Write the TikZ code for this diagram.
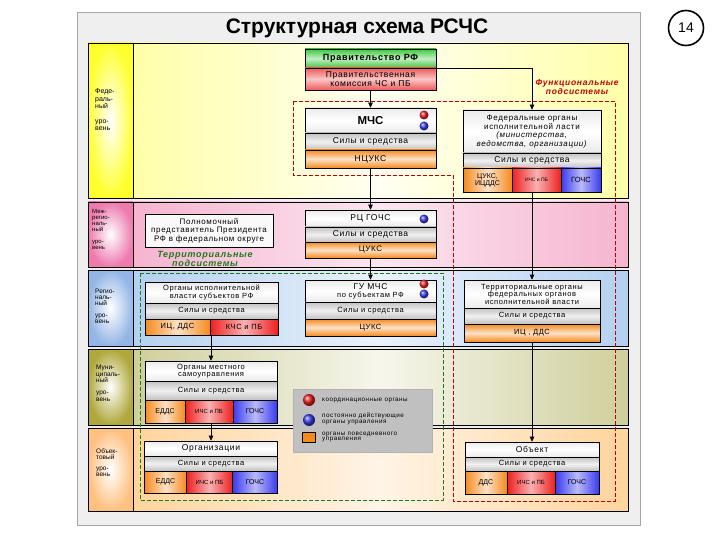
\documentclass[tikz,border=0pt]{standalone}
\usepackage{fontspec}
\setmainfont{Liberation Sans}
\usetikzlibrary{arrows.meta}
\newcommand\lsp{\addfontfeatures{LetterSpace=8}}
\definecolor{cFedA}{HTML}{FFFFA8}
\definecolor{cFedB}{HTML}{FFFFF2}
\definecolor{cFedL}{HTML}{FFFF30}
\definecolor{cMezA}{HTML}{F6B4CF}
\definecolor{cMezB}{HTML}{FCE6F0}
\definecolor{cMezL}{HTML}{EE7AAE}
\definecolor{cRegA}{HTML}{B4D0F0}
\definecolor{cRegB}{HTML}{EAF2FC}
\definecolor{cRegL}{HTML}{94B6E6}
\definecolor{cMunA}{HTML}{CFCF9C}
\definecolor{cMunB}{HTML}{F6F6EC}
\definecolor{cMunL}{HTML}{B0A83C}
\definecolor{cObjA}{HTML}{FFD49C}
\definecolor{cObjB}{HTML}{FFF4E6}
\definecolor{cObjL}{HTML}{FFC080}
\definecolor{cOr}{HTML}{F58A1F}
\definecolor{cRd}{HTML}{EE2020}
\definecolor{cBl}{HTML}{3A3AEE}
\definecolor{cGr}{HTML}{3CC83C}
\definecolor{cKm}{HTML}{EE5A5A}
\definecolor{cFunc}{HTML}{C00000}
\definecolor{cTerr}{HTML}{1E7A1E}
\definecolor{cFrame}{HTML}{EFEFEF}
\definecolor{cLeg}{HTML}{C0C0C0}
\begin{document}
\begin{tikzpicture}[x=1pt,y=-1pt,
  box/.style={draw=black, line width=0.6pt, inner sep=0pt, align=center, text=black, font=\fontsize{8}{8.5}\selectfont\lsp},
  hdr/.style={box, top color=gray!16, bottom color=gray!16, middle color=white},
  ssb/.style={box, top color=gray!48, bottom color=gray!48, middle color=gray!12},
  orv/.style={box, top color=cOr, bottom color=cOr, middle color=cOr!25!white},
  orh/.style={box, left color=cOr, right color=cOr, middle color=cOr!25!white},
  rdh/.style={box, left color=cRd, right color=cRd, middle color=cRd!35!white},
  blh/.style={box, left color=cBl, right color=cBl, middle color=cBl!35!white},
  dot/.style={circle, inner sep=0pt, minimum size=9pt, draw=none},
  arr/.style={-{Triangle[length=5pt,width=4.5pt]}, line width=0.7pt},
  funcd/.style={draw=cFunc, line width=0.7pt, dash pattern=on 4pt off 2pt},
  terrd/.style={draw=cTerr, line width=0.7pt, dash pattern=on 4pt off 2pt},
  lvl/.style={anchor=north west, align=left, inner sep=0pt},
  legt/.style={anchor=west, align=left, inner sep=0pt, font=\fontsize{6.3}{5.5}\selectfont\lsp}
]
\useasboundingbox (0,0) rectangle (720,540);
% outer frame
\draw[draw=gray!70, fill=cFrame, line width=0.8pt] (77,12) rectangle (640,525);
\node[font=\bfseries\fontsize{21}{22}\selectfont] (title) at (357,28) {Структурная схема РСЧС};
\node[circle, draw, line width=1.6pt, minimum size=35pt, inner sep=0pt, font=\fontsize{14}{14}\selectfont] (num) at (686,28) {14};
% bands
\foreach \ya/\yb/\ca/\cb/\cl in {43/198/cFedA/cFedB/cFedL, 202/267/cMezA/cMezB/cMezL, 270/346/cRegA/cRegB/cRegL, 349/425/cMunA/cMunB/cMunL, 428/511/cObjA/cObjB/cObjL}{
  \fill[left color=\ca, right color=\ca, middle color=\cb] (133,\ya) rectangle (628,\yb);
  \fill[inner color=white, outer color=\cl] (88,\ya) rectangle (133,\yb);
  \draw[line width=0.9pt] (88,\ya) rectangle (628,\yb);
  \draw[line width=0.9pt] (133,\ya) -- (133,\yb);
}
% level labels
\node[lvl, font=\fontsize{7}{7.5}\selectfont] (lfed) at (95,88.5) {Феде-\\раль-\\ный\\[7pt]уро-\\вень};
\node[lvl, font=\fontsize{6}{6}\selectfont] (lmez) at (92,209) {Меж-\\регио-\\наль-\\ный\\[6pt]уро-\\вень};
\node[lvl, font=\fontsize{6.5}{6}\selectfont] (lreg) at (95,289) {Регио-\\наль-\\ный\\[6pt]уро-\\вень};
\node[lvl, font=\fontsize{6.5}{6.5}\selectfont] (lmun) at (96,365) {Муни-\\ципаль-\\ный\\[5.5pt]уро-\\вень};
\node[lvl, font=\fontsize{6.5}{6}\selectfont] (lobj) at (96,449) {Объек-\\товый\\[5pt]уро-\\вень};
% subsystem outlines
\draw[funcd] (293,101) -- (615,101) -- (615,501) -- (453,501) -- (453,175) -- (293,175) -- cycle;
\draw[terrd] (140,273) rectangle (443,500);
\node[font=\bfseries\itshape\fontsize{8.5}{7.5}\selectfont\lsp, text=cFunc, align=center] (ftitle) at (577,87) {Функциональные\\подсистемы};
\node[font=\bfseries\itshape\fontsize{9}{8}\selectfont\lsp, text=cTerr, align=center] (ttitle) at (205,259) {Территориальные\\подсистемы};
% federal level
\node[box, top color=cGr, bottom color=cGr, middle color=cGr!30!white, minimum width=131pt, minimum height=19pt, font=\bfseries\fontsize{9}{10}\selectfont\lsp] (gov) at (370.5,58.5) {Правительство РФ};
\node[box, top color=cKm, bottom color=cKm, middle color=cKm!35!white, minimum width=131pt, minimum height=22pt, font=\fontsize{8.5}{8.5}\selectfont\lsp] (kom) at (370.5,79) {Правительственная\\комиссия ЧС и ПБ};
\node[hdr, minimum width=131pt, minimum height=25pt, font=\bfseries\fontsize{11.5}{12}\selectfont] (mchs) at (370.5,120.5) {МЧС};
\node[ssb, minimum width=131pt, minimum height=17pt, font=\fontsize{8.5}{9}\selectfont\lsp] (mchsss) at (370.5,141.5) {Силы и средства};
\node[orv, minimum width=131pt, minimum height=18pt, font=\fontsize{8.5}{9}\selectfont\lsp] (ncuks) at (370.5,159) {НЦУКС};
\node[dot, ball color=cRd] (d1) at (424,115) {};
\node[dot, ball color=cBl] (d2) at (424,126) {};
\node[hdr, minimum width=138pt, minimum height=43pt, font=\fontsize{8}{8.5}\selectfont\lsp] (fed) at (532,131.5) {Федеральные органы\\исполнительной ласти\\\textit{(министерства,}\\\textit{ведомства, организации)}};
\node[ssb, minimum width=138pt, minimum height=15pt, font=\fontsize{8.5}{9}\selectfont\lsp] (fedss) at (532,160.5) {Силы и средства};
\node[orh, minimum width=49pt, minimum height=24pt, font=\fontsize{7}{7}\selectfont] (fedcu) at (487.5,180) {ЦУКС,\\ИЦДДС};
\node[rdh, minimum width=49pt, minimum height=24pt, font=\fontsize{5}{5}\selectfont] (fedich) at (536.5,180) {ИЧС и ПБ};
\node[blh, minimum width=40pt, minimum height=24pt, font=\fontsize{7.5}{8}\selectfont] (fedgo) at (581,180) {ГОЧС};
% interregional level
\node[box, fill=gray!5, minimum width=128pt, minimum height=33pt, font=\fontsize{8}{8.5}\selectfont\lsp] (pp) at (209,230.5) {Полномочный\\представитель Президента\\РФ в федеральном округе};
\node[hdr, minimum width=131pt, minimum height=17pt, font=\fontsize{8.5}{9}\selectfont\lsp] (rc) at (370.5,218.5) {РЦ ГОЧС};
\node[ssb, minimum width=131pt, minimum height=15pt, font=\fontsize{8.5}{9}\selectfont\lsp] (rcss) at (370.5,234.5) {Силы и средства};
\node[orv, minimum width=131pt, minimum height=16pt, font=\fontsize{8}{9}\selectfont\lsp] (rccu) at (370.5,250) {ЦУКС};
\node[dot, ball color=cBl] (d3) at (424,219) {};
% regional level
\node[hdr, minimum width=133pt, minimum height=21pt, font=\fontsize{7.5}{7.5}\selectfont\lsp] (sub) at (211.5,292.5) {Органы исполнительной\\власти субъектов РФ};
\node[ssb, minimum width=133pt, minimum height=16pt, font=\fontsize{7.5}{8}\selectfont\lsp] (subss) at (211.5,311) {Силы и средства};
\node[orh, minimum width=65pt, minimum height=16pt, font=\fontsize{7.5}{8}\selectfont\lsp] (subic) at (177.5,327) {ИЦ, ДДС};
\node[rdh, minimum width=68pt, minimum height=16pt, font=\fontsize{7.5}{8}\selectfont\lsp] (subkc) at (244,327) {КЧС и ПБ};
\node[hdr, minimum width=131pt, minimum height=22pt, font=\fontsize{7.5}{8}\selectfont\lsp] (gu) at (370.5,291) {{\fontsize{8.5}{8.5}\selectfont\lsp ГУ МЧС}\\по субъектам РФ};
\node[ssb, minimum width=131pt, minimum height=17pt, font=\fontsize{7.5}{8}\selectfont\lsp] (guss) at (370.5,310.5) {Силы и средства};
\node[orv, minimum width=131pt, minimum height=17pt, font=\fontsize{7.5}{8}\selectfont\lsp] (gucu) at (370.5,327.5) {ЦУКС};
\node[dot, ball color=cRd] (d4) at (424,284) {};
\node[dot, ball color=cBl] (d5) at (424,294) {};
\node[hdr, minimum width=136pt, minimum height=28pt, font=\fontsize{7.5}{7.5}\selectfont\lsp] (ter) at (532,294) {Территориальные органы\\федеральных органов\\исполнительной власти};
\node[ssb, minimum width=136pt, minimum height=16pt, font=\fontsize{7.5}{8}\selectfont\lsp] (terss) at (532,316) {Силы и средства};
\node[orv, minimum width=136pt, minimum height=18pt, font=\fontsize{7.5}{8}\selectfont\lsp] (teric) at (532,333) {ИЦ , ДДС};
% municipal level
\node[hdr, minimum width=132pt, minimum height=20pt, font=\fontsize{7.5}{7.5}\selectfont\lsp] (mun) at (211,371) {Органы местного\\самоуправления};
\node[ssb, minimum width=132pt, minimum height=19pt, font=\fontsize{7.5}{8}\selectfont\lsp] (munss) at (211,390.5) {Силы и средства};
\node[orh, minimum width=40pt, minimum height=23pt, font=\fontsize{7}{8}\selectfont] (muned) at (165,411.5) {ЕДДС};
\node[rdh, minimum width=48pt, minimum height=23pt, font=\fontsize{6}{7}\selectfont] (munich) at (209,411.5) {ИЧС и ПБ};
\node[blh, minimum width=44pt, minimum height=23pt, font=\fontsize{7}{8}\selectfont] (mungo) at (255,411.5) {ГОЧС};
% object level
\node[hdr, minimum width=133pt, minimum height=15pt, font=\fontsize{8.5}{9}\selectfont\lsp] (org) at (211,448.5) {Организации};
\node[ssb, minimum width=133pt, minimum height=15pt, font=\fontsize{7.5}{8}\selectfont\lsp] (orgss) at (211,463.5) {Силы и средства};
\node[orh, minimum width=42pt, minimum height=22pt, font=\fontsize{7}{8}\selectfont] (orged) at (165.5,482) {ЕДДС};
\node[rdh, minimum width=46pt, minimum height=22pt, font=\fontsize{6}{7}\selectfont] (orgich) at (209.5,482) {ИЧС и ПБ};
\node[blh, minimum width=45pt, minimum height=22pt, font=\fontsize{7}{8}\selectfont] (orggo) at (255,482) {ГОЧС};
\node[hdr, minimum width=134pt, minimum height=15pt, font=\fontsize{8.5}{9}\selectfont\lsp] (obj) at (532,449.5) {Объект};
\node[ssb, minimum width=134pt, minimum height=14pt, font=\fontsize{7.5}{8}\selectfont\lsp] (objss) at (532,464) {Силы и средства};
\node[orh, minimum width=42pt, minimum height=23pt, font=\fontsize{7}{8}\selectfont] (objdd) at (486,482.5) {ДДС};
\node[rdh, minimum width=48pt, minimum height=23pt, font=\fontsize{6}{7}\selectfont] (objich) at (531,482.5) {ИЧС и ПБ};
\node[blh, minimum width=44pt, minimum height=23pt, font=\fontsize{7}{8}\selectfont] (objgo) at (577,482.5) {ГОЧС};
% connectors
\draw[arr] (kom) -- (mchs);
\draw[arr] (gov.south east) -| (fed.north);
\draw[arr] (ncuks) -- (rc);
\draw[arr] (rccu) -- (gu);
\draw[arr] (fedich.south -| fed.south) -- (ter.north);
\draw[arr] (teric) -- (obj);
\draw[arr] (subic.south -| mun.north) -- (mun.north);
\draw[arr] (munich.south -| org.north) -- (org.north);
% legend
\node[draw=gray!60, fill=cLeg, minimum width=139pt, minimum height=63pt, inner sep=0pt] (leg) at (362.5,420.5) {};
\node[dot, minimum size=12pt, ball color=cRd] (lg1) at (309,400) {};
\node[dot, minimum size=12pt, ball color=cBl] (lg2) at (309,420) {};
\node[draw, fill=cOr, minimum width=13pt, minimum height=10pt, inner sep=0pt] (lg3) at (309,437) {};
\node[legt] (lt1) at (322,400) {координационные органы};
\node[legt] (lt2) at (322,419) {постоянно действующие\\органы управления};
\node[legt] (lt3) at (322,437) {органы повседневного\\управления};
\end{tikzpicture}
\end{document}
